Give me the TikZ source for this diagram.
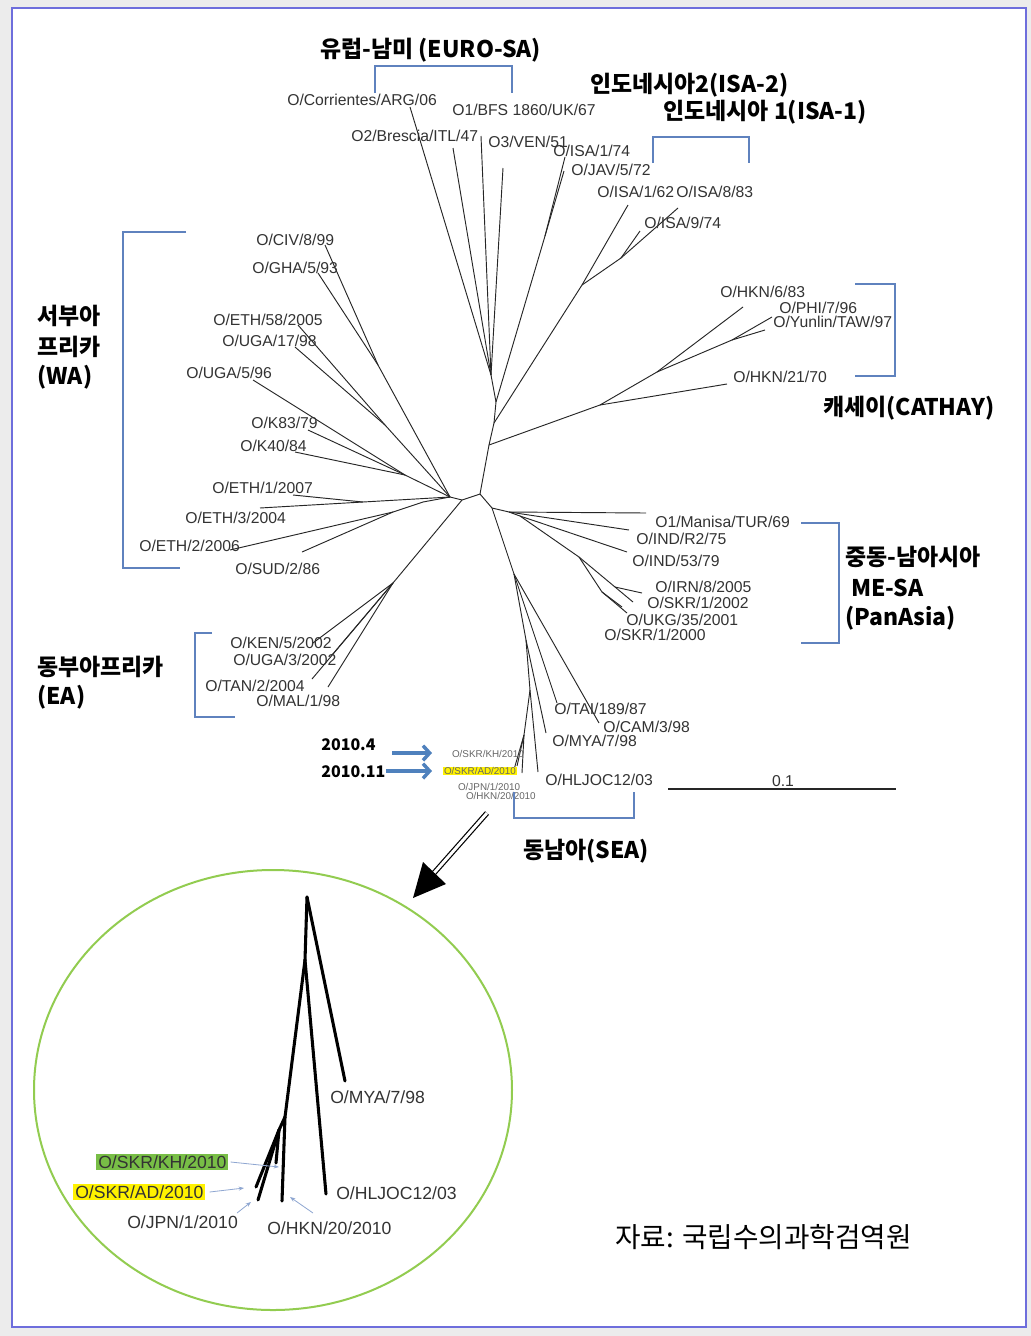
\documentclass[tikz,border=0pt]{standalone}
\usepackage{fontspec}
\setmainfont{Liberation Sans}
\newfontfamily\kr{Noto Sans CJK KR}
\usetikzlibrary{arrows.meta,shapes.geometric}
\definecolor{brk}{RGB}{95,130,190}
\definecolor{arrblue}{RGB}{79,129,189}
\definecolor{ringgreen}{RGB}{146,204,80}
\definecolor{hlgreen}{RGB}{120,190,70}
\definecolor{framecol}{RGB}{110,110,220}
\definecolor{pagebg}{RGB}{236,236,236}
\begin{document}
\begin{tikzpicture}[x=0.75pt,y=-0.75pt,
  tr/.style={draw=black!85,line width=0.7pt},
  thick tr/.style={draw=black,line width=2.3pt},
  br/.style={draw=brk,line width=0.9pt},
  lab/.style={anchor=west,inner sep=0pt,text=black!80,font=\fontsize{11.8}{12}\selectfont},
  sm/.style={anchor=west,inner sep=0.6pt,text=black!60,font=\fontsize{7.4}{8}\selectfont},
  big/.style={anchor=west,inner sep=0pt,text=black!80,font=\fontsize{13.2}{14}\selectfont},
  ttl/.style={anchor=west,inner sep=0pt,font=\kr\bfseries\fontsize{17.2}{20}\selectfont},
  yr/.style={anchor=west,inner sep=0pt,font=\kr\bfseries\fontsize{12}{14}\selectfont},
  pt/.style={inner sep=0pt,minimum size=0pt}]

% page and frame
\fill[pagebg] (0,0) rectangle (1031,1336);
\draw[framecol,line width=1.1pt,fill=white] (12,8) rectangle (1026,1327);

% ---------- internal tree points ----------
\coordinate (A) at (480,494);
\coordinate (B) at (462,500);
\coordinate (C) at (450,497);
\coordinate (D) at (489,445);
\coordinate (X2) at (494,423);
\coordinate (X1) at (496,402);
\coordinate (N) at (492,508);
\coordinate (T) at (514,574);
% West Africa
\coordinate (K) at (378,365);
\coordinate (L) at (385,425);
\coordinate (M) at (405,475);
\coordinate (H) at (363,502);
\coordinate (I) at (393,512);
\coordinate (J) at (423,502);
% East Africa
\coordinate (EAh) at (393,583);
% Euro-SA
\coordinate (Y) at (491,375);
% ISA
\coordinate (Z) at (545,236);
\coordinate (W1) at (582,285);
\coordinate (W2) at (621,258);
% Cathay
\coordinate (E) at (600,405);
\coordinate (F) at (657,372);
\coordinate (G) at (732,340);
% ME-SA
\coordinate (P1) at (509,512);
\coordinate (P2) at (520,516);
\coordinate (Q) at (579,557);
\coordinate (R) at (615,587);
\coordinate (S) at (602,592);
% SEA
\coordinate (U1) at (526,640);
\coordinate (U2) at (530,690);
\coordinate (V) at (524,735);

% ---------- leaf tips ----------
\coordinate (tCorr) at (410,107);
\coordinate (tBres) at (453,148);
\coordinate (tBFS) at (481,136);
\coordinate (tVEN) at (503,168);
\coordinate (tISA174) at (565,157);
\coordinate (tJAV) at (564,171);
\coordinate (tISA162) at (628,205);
\coordinate (tISA883) at (678,208);
\coordinate (tISA974) at (640,231);
\coordinate (tCIV) at (325,245);
\coordinate (tGHA) at (318,273);
\coordinate (tETH58) at (298,325);
\coordinate (tUGA17) at (295,347);
\coordinate (tUGA5) at (253,380);
\coordinate (tK83) at (308,430);
\coordinate (tK40) at (295,452);
\coordinate (tETH1) at (293,495);
\coordinate (tETH3) at (260,508);
\coordinate (tETH2) at (230,550);
\coordinate (tSUD) at (302,552);
\coordinate (tHKN6) at (743,307);
\coordinate (tPHI) at (772,317);
\coordinate (tYun) at (765,330);
\coordinate (tHKN21) at (727,384);
\coordinate (tMan) at (646,513);
\coordinate (tINDR2) at (629,530);
\coordinate (tIND53) at (627,552);
\coordinate (tIRN) at (642,593);
\coordinate (tSKR02) at (633,602);
\coordinate (tUKG) at (627,613);
\coordinate (tSKR00) at (622,607);
\coordinate (tKEN) at (313,643);
\coordinate (tUGA3) at (332,655);
\coordinate (tTAN) at (312,679);
\coordinate (tMAL) at (328,687);
\coordinate (tTAI) at (557,703);
\coordinate (tCAM) at (599,723);
\coordinate (tMYA) at (546,733);
\coordinate (tHLJ) at (538,772);
\coordinate (tAD) at (513,773);
\coordinate (tKH) at (517,766);
\coordinate (tJPN) at (522,773);

% ---------- branches ----------
\foreach \u/\v in {A/B,B/C,A/D,D/X2,X2/X1,A/N,N/T,
  C/K,K/tCIV,K/tGHA,C/L,L/tETH58,L/tUGA17,C/M,M/tUGA5,M/tK83,M/tK40,
  C/H,H/tETH1,H/tETH3,C/J,J/I,I/tETH2,I/tSUD,
  B/EAh,EAh/tKEN,EAh/tUGA3,EAh/tTAN,EAh/tMAL,
  X1/Y,Y/tCorr,Y/tBres,Y/tBFS,Y/tVEN,
  X1/Z,Z/tISA174,Z/tJAV,
  X2/W1,W1/tISA162,W1/W2,W2/tISA883,W2/tISA974,
  D/E,E/tHKN21,E/F,F/tHKN6,F/G,G/tPHI,G/tYun,
  N/P1,P1/tMan,P1/tINDR2,P1/P2,P2/tIND53,P2/Q,Q/R,R/tIRN,R/tSKR02,Q/S,S/tUKG,S/tSKR00,
  T/tTAI,T/tCAM,T/U1,U1/tMYA,U1/U2,U2/tHLJ,U2/V,V/tAD,V/tKH,V/tJPN}
  \draw[tr] (\u) -- (\v);

% ---------- leaf labels ----------
\node[lab] (lCorr) at (287,100) {O/Corrientes/ARG/06};
\node[lab] (lBFS) at (452,110) {O1/BFS 1860/UK/67};
\node[lab] (lBres) at (351,136) {O2/Brescia/ITL/47};
\node[lab] (lVEN) at (488,142) {O3/VEN/51};
\node[lab] (lISA174) at (553,151) {O/ISA/1/74};
\node[lab] (lJAV) at (571,170) {O/JAV/5/72};
\node[lab] (lISA162) at (597,192) {O/ISA/1/62};
\node[lab] (lISA883) at (676,192) {O/ISA/8/83};
\node[lab] (lISA974) at (644,223) {O/ISA/9/74};
\node[lab] (lCIV) at (256,240) {O/CIV/8/99};
\node[lab] (lGHA) at (252,268) {O/GHA/5/93};
\node[lab] (lETH58) at (213,320) {O/ETH/58/2005};
\node[lab] (lUGA17) at (222,341) {O/UGA/17/98};
\node[lab] (lUGA5) at (186,373) {O/UGA/5/96};
\node[lab] (lK83) at (251,423) {O/K83/79};
\node[lab] (lK40) at (240,446) {O/K40/84};
\node[lab] (lETH1) at (212,488) {O/ETH/1/2007};
\node[lab] (lETH3) at (185,518) {O/ETH/3/2004};
\node[lab] (lETH2) at (139,546) {O/ETH/2/2006};
\node[lab] (lSUD) at (235,569) {O/SUD/2/86};
\node[lab] (lHKN6) at (720,292) {O/HKN/6/83};
\node[lab] (lPHI) at (779,308) {O/PHI/7/96};
\node[lab] (lYun) at (773,322) {O/Yunlin/TAW/97};
\node[lab] (lHKN21) at (733,377) {O/HKN/21/70};
\node[lab] (lMan) at (655,522) {O1/Manisa/TUR/69};
\node[lab] (lINDR2) at (636,539) {O/IND/R2/75};
\node[lab] (lIND53) at (632,561) {O/IND/53/79};
\node[lab] (lIRN) at (655,587) {O/IRN/8/2005};
\node[lab] (lSKR02) at (647,603) {O/SKR/1/2002};
\node[lab] (lUKG) at (626,620) {O/UKG/35/2001};
\node[lab] (lSKR00) at (604,635) {O/SKR/1/2000};
\node[lab] (lKEN) at (230,643) {O/KEN/5/2002};
\node[lab] (lUGA3) at (233,660) {O/UGA/3/2002};
\node[lab] (lTAN) at (205,686) {O/TAN/2/2004};
\node[lab] (lMAL) at (256,701) {O/MAL/1/98};
\node[lab] (lTAI) at (554,709) {O/TAI/189/87};
\node[lab] (lCAM) at (603,727) {O/CAM/3/98};
\node[lab] (lMYA) at (552,741) {O/MYA/7/98};
\node[lab] (lHLJ) at (545,780) {O/HLJOC12/03};
\node[sm] (lKH) at (451,754) {O/SKR/KH/2010};
\node[sm,fill=yellow] (lAD) at (443,771) {O/SKR/AD/2010};
\node[sm] (lJPN) at (457,787) {O/JPN/1/2010};
\node[sm] (lHKN20) at (465,796) {O/HKN/20/2010};

% ---------- group brackets ----------
\draw[br] (375,93) -- (375,66) -- (512,66) -- (512,93);
\draw[br] (653,163) -- (653,137) -- (749,137) -- (749,163);
\draw[br] (186,232) -- (123,232) -- (123,568) -- (180,568);
\draw[br] (855,284) -- (895,284) -- (895,376) -- (855,376);
\draw[br] (801,523) -- (839,523) -- (839,643) -- (801,643);
\draw[br] (212,633) -- (195,633) -- (195,717) -- (235,717);
\draw[br] (514,792) -- (514,818) -- (634,818) -- (634,792);

% ---------- group titles ----------
\node[ttl] (gEURO) at (320,50) {유럽-남미 (EURO-SA)};
\node[ttl] (gISA2) at (590,85) {인도네시아2(ISA-2)};
\node[ttl] (gISA1) at (663,112) {인도네시아 1(ISA-1)};
\node[ttl] (gWA1) at (37,316) {서부아};
\node[ttl] (gWA2) at (37,347) {프리카};
\node[ttl] (gWA3) at (37,377) {(WA)};
\node[ttl] (gCAT) at (823,408) {캐세이(CATHAY)};
\node[ttl] (gME1) at (845,557) {중동-남아시아};
\node[ttl] (gME2) at (851,588) {ME-SA};
\node[ttl] (gME3) at (845,618) {(PanAsia)};
\node[ttl] (gEA1) at (37,667) {동부아프리카};
\node[ttl] (gEA2) at (37,697) {(EA)};
\node[ttl] (gSEA) at (523,851) {동남아(SEA)};

% ---------- outbreak dates ----------
\node[yr] (d1) at (321,745) {2010.4};
\node[yr] (d2) at (321,772) {2010.11};
\coordinate (a1s) at (392,753);
\coordinate (a1e) at (432,753);
\coordinate (a2s) at (386,771);
\coordinate (a2e) at (432,771);
\draw[arrblue,line width=2.6pt,-{Straight Barb[length=5pt,width=11pt]}] (a1s) -- (a1e);
\draw[arrblue,line width=2.6pt,-{Straight Barb[length=5pt,width=11pt]}] (a2s) -- (a2e);

% ---------- scale bar ----------
\coordinate (sb1) at (668,789);
\coordinate (sb2) at (896,789);
\draw[black!85,line width=0.8pt] (sb1) -- (sb2);
\node[inner sep=0pt,text=black!80,font=\fontsize{11.8}{12}\selectfont] (sbl) at (783,781) {0.1};

% ---------- pointer to the enlarged view ----------
\coordinate (bs) at (487,813);
\coordinate (bb) at (434,873);
\draw[black,line width=0.9pt,double=white,double distance=2.2pt] (bs) -- (bb);
\fill[black] (413,898) -- (423,862) -- (446,884) -- cycle;

% ---------- enlarged view ----------
\node[draw=ringgreen,line width=1.5pt,ellipse,minimum width=358.5pt,minimum height=330pt,inner sep=0pt] (ring) at (273,1090) {};
\coordinate (c0) at (307,897);
\coordinate (c1) at (305,960);
\coordinate (c2) at (285,1117);
\coordinate (c3) at (279,1130);
\coordinate (cMYA) at (345,1081);
\coordinate (cHLJ) at (326,1194);
\coordinate (cHKN) at (282,1201);
\coordinate (cJPN) at (258,1200);
\coordinate (cAD) at (256,1187);
\coordinate (cKH) at (276,1163);
\foreach \u/\v in {c0/cMYA,c0/c1,c1/cHLJ,c1/c2,c2/cHKN,c2/c3,c3/cJPN,c3/cAD,c3/cKH}
  \draw[thick tr,line cap=round] (\u) -- (\v);

\node[big] (eMYA) at (330,1097) {O/MYA/7/98};
\node[big] (eHLJ) at (336,1193) {O/HLJOC12/03};
\node[big] (eHKN) at (267,1228) {O/HKN/20/2010};
\node[big] (eJPN) at (127,1222) {O/JPN/1/2010};
\node[big,fill=yellow,inner sep=1.5pt] (eAD) at (73,1192) {O/SKR/AD/2010};
\node[big,fill=hlgreen,inner sep=1.5pt] (eKH) at (96,1162) {O/SKR/KH/2010};
\coordinate (pKH) at (279,1167);
\coordinate (pAD) at (244,1188);
\coordinate (pJPN) at (251,1202);
\coordinate (pHKN) at (290,1197);
\begin{scope}[draw=brk!70,line width=0.6pt,-{Stealth[length=4pt,width=3pt]}]
  \draw (eKH.east) ++(2,0) -- (pKH);
  \draw (eAD.east) ++(4,0) -- (pAD);
  \draw (237,1213) -- (pJPN);
  \draw (313,1213) -- (pHKN);
\end{scope}

% ---------- source ----------
\node[anchor=west,inner sep=0pt,font=\kr\fontsize{20.8}{22}\selectfont] (src) at (615,1237) {자료: 국립수의과학검역원};
\end{tikzpicture}
\end{document}
